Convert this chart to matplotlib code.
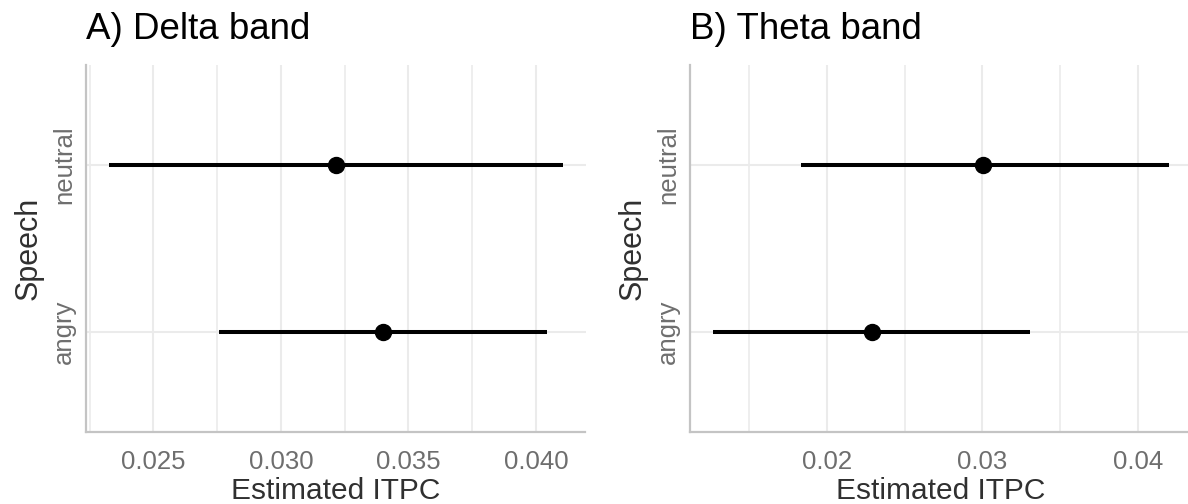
import matplotlib
matplotlib.use("Agg")
import matplotlib.pyplot as plt
from matplotlib.ticker import MultipleLocator
import numpy as np

plt.rcParams['font.family'] = ['Liberation Sans', 'DejaVu Sans']

# Estimated ITPC with interval limits, per speech condition
categories = ["angry", "neutral"]

delta_est = [0.03402, 0.03217]
delta_lo = [0.02756, 0.02325]
delta_hi = [0.04042, 0.04105]

theta_est = [0.02288, 0.03005]
theta_lo = [0.01265, 0.01830]
theta_hi = [0.03310, 0.04200]

panels = [
    ("A) Delta band", delta_est, delta_lo, delta_hi, 0.005, "{:.3f}"),
    ("B) Theta band", theta_est, theta_lo, theta_hi, 0.01, "{:.2f}"),
]

W, H = 1188, 504
fig = plt.figure(figsize=(W / 100, H / 100), dpi=100)

# panel boxes in pixels: left, right, top, bottom
boxes = [(86, 585.5, 65, 432), (690, 1191.5, 65, 432)]

grid_col = "#ebebeb"
axis_col = "#c4c4c4"
tick_col = "#6e6e6e"

for (title, est, lo, hi, step, fmt), (l, r, t, b) in zip(panels, boxes):
    ax = fig.add_axes([l / W, (H - b) / H, (r - l) / W, (b - t) / H])
    y = np.arange(1, len(categories) + 1)

    ax.hlines(y, lo, hi, color="black", linewidth=2.9, zorder=3, capstyle="butt")
    ax.plot(est, y, "o", color="black", markersize=11.5, zorder=4)

    lo_all, hi_all = min(lo), max(hi)
    pad = 0.05 * (hi_all - lo_all)
    ax.set_xlim(lo_all - pad, hi_all + pad)
    ax.set_ylim(0.4, len(categories) + 0.6)

    ax.xaxis.set_major_locator(MultipleLocator(step))
    ax.xaxis.set_minor_locator(MultipleLocator(step / 2))
    ticks = [v for v in ax.get_xticks() if lo_all - pad <= v <= hi_all + pad]
    ax.set_xticks(ticks)
    ax.set_xticklabels([fmt.format(v) for v in ticks])
    ax.set_yticks(y)
    ax.set_yticklabels(categories, rotation=90, va="center")

    ax.grid(True, which="major", color=grid_col, linewidth=1.5, zorder=0)
    ax.grid(True, which="minor", axis="x", color=grid_col, linewidth=1.2, zorder=0)
    ax.set_axisbelow(True)

    for s in ["top", "right"]:
        ax.spines[s].set_visible(False)
    for s in ["left", "bottom"]:
        ax.spines[s].set_color(axis_col)
        ax.spines[s].set_linewidth(1.6)

    ax.tick_params(axis="both", which="both", length=0, colors=tick_col,
                   labelsize=18.5)
    ax.tick_params(axis="x", pad=13)
    ax.tick_params(axis="y", pad=7)

    ax.set_xlabel("Estimated ITPC", fontsize=21.5, color="#303030", labelpad=2)
    ax.set_ylabel("Speech", fontsize=22, color="#303030", labelpad=6)
    ax.set_title(title, fontsize=26.5, loc="left", x=0.0, pad=19, color="black")

fig.savefig("out.png", dpi=100, facecolor="white")
